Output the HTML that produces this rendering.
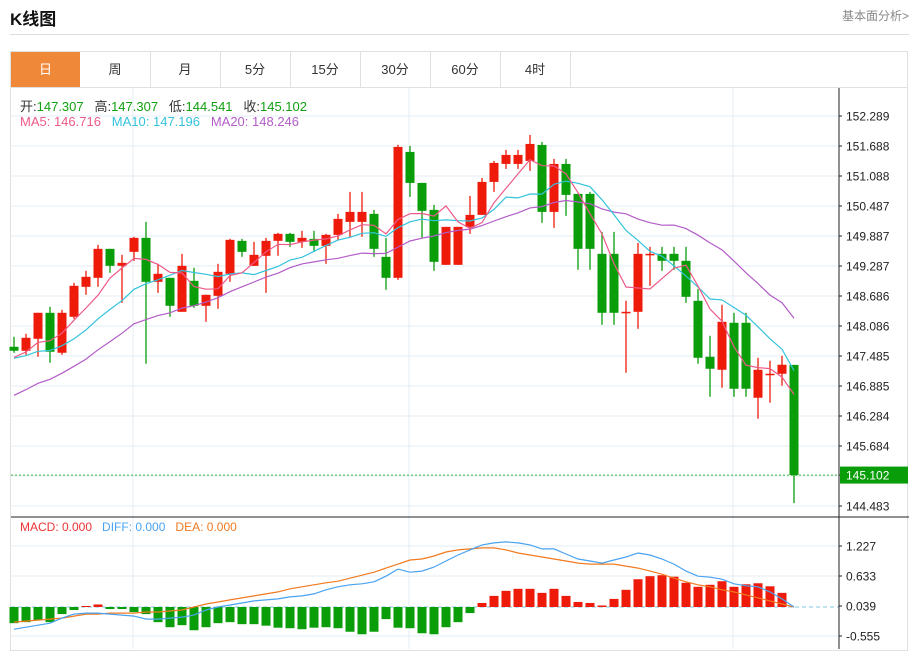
<!DOCTYPE html>
<html><head><meta charset="utf-8"><style>
body{margin:0;width:917px;height:649px;overflow:hidden;background:#fff;font-family:"Liberation Sans","Noto Sans CJK SC",sans-serif;}
.t{position:absolute;white-space:nowrap}
</style></head><body>
<div class="t" style="left:10px;top:5px;font-size:17px;font-weight:bold;color:#111">K线图</div>
<div class="t" style="left:842px;top:7px;font-size:12px;color:#888">基本面分析&gt;</div>
<div style="position:absolute;left:10px;top:34px;width:899px;height:1px;background:#ddd"></div>
<div style="position:absolute;left:10px;top:51px;width:898px;height:600px;border:1px solid #e0e0e0;box-sizing:border-box"></div>
<div style="position:absolute;left:11px;top:52px;height:35px;width:897px;border-bottom:1px solid #e0e0e0;font-size:13px;color:#333">
<div style="position:absolute;left:0;width:69px;height:35px;background:#f0883a;color:#fff;text-align:center;line-height:35px">日</div>
<div style="position:absolute;left:69px;width:70px;height:35px;border-right:1px solid #e0e0e0;text-align:center;line-height:35px">周</div>
<div style="position:absolute;left:139px;width:70px;height:35px;border-right:1px solid #e0e0e0;text-align:center;line-height:35px">月</div>
<div style="position:absolute;left:209px;width:70px;height:35px;border-right:1px solid #e0e0e0;text-align:center;line-height:35px">5分</div>
<div style="position:absolute;left:279px;width:70px;height:35px;border-right:1px solid #e0e0e0;text-align:center;line-height:35px">15分</div>
<div style="position:absolute;left:349px;width:70px;height:35px;border-right:1px solid #e0e0e0;text-align:center;line-height:35px">30分</div>
<div style="position:absolute;left:419px;width:70px;height:35px;border-right:1px solid #e0e0e0;text-align:center;line-height:35px">60分</div>
<div style="position:absolute;left:489px;width:70px;height:35px;border-right:1px solid #e0e0e0;text-align:center;line-height:35px">4时</div>
</div>
<svg id="chart" width="917" height="649" style="position:absolute;left:0;top:0" font-family="Liberation Sans, Noto Sans CJK SC, sans-serif"></svg>
<div class="t" style="left:20px;top:96px;font-size:13px;color:#333">开:<span style="color:#11a011">147.307</span>&nbsp;&nbsp; 高:<span style="color:#11a011">147.307</span>&nbsp;&nbsp; 低:<span style="color:#11a011">144.541</span>&nbsp;&nbsp; 收:<span style="color:#11a011">145.102</span></div>
<div class="t" style="left:20px;top:114px;font-size:13px"><span style="color:#ee5a88">MA5: 146.716</span>&nbsp;&nbsp; <span style="color:#33c3dc">MA10: 147.196</span>&nbsp;&nbsp; <span style="color:#b35cc8">MA20: 148.246</span></div>
<div class="t" style="left:20px;top:520px;font-size:12px"><span style="color:#ee3333">MACD: 0.000</span>&nbsp;&nbsp; <span style="color:#4aa3f0">DIFF: 0.000</span>&nbsp;&nbsp; <span style="color:#f07a20">DEA: 0.000</span></div>
<script>
const opens=[147.67,147.59,147.83,148.35,147.55,148.27,148.87,149.05,149.63,149.29,149.57,149.85,148.97,149.05,148.37,148.99,148.49,148.69,149.13,149.79,149.29,149.49,149.79,149.93,149.77,149.83,149.69,149.91,150.17,150.17,150.33,149.47,149.05,151.57,150.95,150.41,149.31,149.31,150.07,150.31,150.97,151.33,151.33,151.39,151.71,150.37,151.33,150.73,150.73,149.53,149.53,148.36,148.37,149.52,149.53,149.53,149.39,148.59,147.47,147.21,148.15,148.15,146.65,147.12,147.13,147.307];
const highs=[147.87,147.93,148.35,148.47,148.41,148.95,149.19,149.71,149.63,149.51,149.87,150.17,149.33,149.05,149.53,149.25,148.71,149.33,149.83,149.83,149.77,149.85,149.95,149.95,149.99,149.99,149.93,150.33,150.77,150.77,150.41,149.85,151.71,151.69,150.95,150.51,150.07,150.07,150.69,151.05,151.39,151.61,151.61,151.91,151.77,151.43,151.43,150.73,150.77,149.97,149.97,148.59,149.75,149.67,149.67,149.67,149.67,148.83,147.89,148.51,148.35,148.35,147.45,147.39,147.49,147.307];
const lows=[147.55,147.51,147.47,147.35,147.51,148.23,148.71,148.87,149.15,148.55,149.39,147.33,148.75,148.27,148.37,148.45,148.17,148.43,148.97,149.47,149.29,148.75,149.49,149.67,149.65,149.57,149.33,149.81,149.87,149.87,149.47,148.81,149.01,150.67,149.85,149.19,149.31,149.31,149.93,150.31,150.77,151.23,151.23,151.19,150.15,150.05,150.29,149.21,149.21,148.11,148.11,147.15,148.03,148.89,149.19,149.21,148.55,147.33,146.67,146.85,146.67,146.67,146.23,146.55,146.89,144.541];
const closes=[147.59,147.85,148.35,147.57,148.35,148.89,149.07,149.63,149.29,149.35,149.85,148.97,149.13,148.49,149.29,148.49,148.71,149.17,149.81,149.57,149.51,149.79,149.93,149.77,149.85,149.69,149.91,150.23,150.37,150.37,149.63,149.05,151.67,150.95,150.39,149.37,150.07,150.07,150.31,150.97,151.35,151.51,151.51,151.73,150.37,151.33,150.71,149.63,149.63,148.35,148.35,148.37,149.53,149.53,149.39,149.39,148.67,147.45,147.23,148.17,146.83,146.83,147.21,147.13,147.31,145.102];
const priorCloses=[145.6,145.8,146.0,145.9,146.1,146.2,145.9,146.0,146.0,146.1,147.3,147.5,147.4,147.4,147.5,147.3,147.4,147.4,147.6];
const macdBars=[-0.32,-0.30,-0.26,-0.30,-0.14,-0.06,0.02,0.05,-0.04,-0.04,-0.10,-0.14,-0.30,-0.40,-0.36,-0.46,-0.40,-0.32,-0.30,-0.34,-0.34,-0.37,-0.41,-0.42,-0.44,-0.41,-0.40,-0.42,-0.49,-0.54,-0.49,-0.24,-0.41,-0.42,-0.52,-0.54,-0.40,-0.30,-0.12,0.08,0.22,0.32,0.36,0.36,0.28,0.36,0.22,0.10,0.08,0.03,0.16,0.34,0.55,0.61,0.63,0.60,0.48,0.40,0.44,0.51,0.40,0.45,0.47,0.41,0.28,0];
const diffVals=[-0.44,-0.40,-0.36,-0.32,-0.22,-0.14,-0.12,-0.12,-0.14,-0.16,-0.18,-0.24,-0.24,-0.22,-0.20,-0.16,-0.06,0.0,0.04,0.08,0.12,0.14,0.16,0.20,0.22,0.26,0.34,0.40,0.44,0.46,0.50,0.61,0.75,0.69,0.71,0.79,0.91,1.03,1.13,1.23,1.27,1.29,1.27,1.23,1.15,1.15,1.05,0.95,0.91,0.87,0.93,0.99,1.07,1.03,0.95,0.85,0.71,0.61,0.59,0.55,0.46,0.42,0.40,0.30,0.16,0.0];
const deaVals=[-0.30,-0.28,-0.26,-0.24,-0.22,-0.18,-0.14,-0.14,-0.12,-0.12,-0.12,-0.10,-0.10,-0.08,-0.06,0.0,0.06,0.10,0.14,0.18,0.22,0.26,0.30,0.36,0.40,0.44,0.48,0.51,0.57,0.63,0.69,0.77,0.85,0.93,0.95,1.01,1.09,1.13,1.15,1.17,1.17,1.13,1.07,1.03,0.99,0.95,0.91,0.87,0.85,0.85,0.85,0.81,0.77,0.71,0.65,0.57,0.50,0.44,0.40,0.34,0.30,0.24,0.18,0.12,0.06,0.0];
const priceTicks=["152.289","151.688","151.088","150.487","149.887","149.287","148.686","148.086","147.485","146.885","146.284","145.684","145.102","144.483"];
const macdTicks=["1.227","0.633","0.039","-0.555"];

const NS="http://www.w3.org/2000/svg";
const svg=document.getElementById('chart');
function mk(tag,attrs,parent){const e=document.createElementNS(NS,tag);for(const k in attrs)e.setAttribute(k,attrs[k]);(parent||svg).appendChild(e);return e;}
const PL=11,PR=839,PT=88,PB=517,MB=649;
const pTop=152.289,pBot=144.483,yTop=116,yBot=506;
const py=p=>yTop+(pTop-p)/(pTop-pBot)*(yBot-yTop);
const mZero=607,mScale=50.5;
const my=v=>mZero-v*mScale;
const xi=i=>14+12*i;

// grid
const grid=mk('g',{});


for(let k=0;k<14;k++){const y=116+30*k;mk('line',{x1:PL,x2:PR,y1:y,y2:y,stroke:'#e2ecf3','stroke-width':1},grid);}
[546,576,636].forEach(y=>mk('line',{x1:PL,x2:PR,y1:y,y2:y,stroke:'#e2ecf3','stroke-width':1},grid));
[133,409,733].forEach(x=>mk('line',{x1:x,x2:x,y1:PT,y2:MB,stroke:'#e2ecf3','stroke-width':1},grid));
mk('line',{x1:PL,x2:PR,y1:mZero,y2:mZero,stroke:'#bfe3f0','stroke-width':2,'stroke-dasharray':'4,3'},grid);
// axes
const ax=mk('line',{x1:PR,x2:PR,y1:PT,y2:MB,stroke:'#222','stroke-width':1});


const sep=mk('line',{x1:PL,x2:909,y1:PB,y2:PB,stroke:'#222','stroke-width':1});


// price ticks
priceTicks.forEach((t,k)=>{
  const v=parseFloat(t);
  const y=(k===12)?py(closes[closes.length-1]):116+30*(k<12?k:13);
  mk('line',{x1:PR,x2:PR+3,y1:y,y2:y,stroke:'#222'});
  if(k===12){const r=mk('rect',{x:PR+1,y:y-8.5,width:68,height:17,fill:'#0a9d0a'});
    
    }
  const tx=mk('text',{x:PR+7,y:y+4.5,'font-size':12,fill:k===12?'#fff':'#222'});
  tx.textContent=t;
  
  
});
macdTicks.forEach((t,k)=>{
  const y=546+30*k;
  mk('line',{x1:PR,x2:PR+3,y1:y,y2:y,stroke:'#222'});
  const tx=mk('text',{x:PR+7,y:y+4.5,'font-size':12,fill:'#222'});
  tx.textContent=t;
  
  
});
// last price dotted line
const lp=mk('line',{x1:PL,x2:PR,y1:py(closes[closes.length-1]),y2:py(closes[closes.length-1]),stroke:'#3cb93c','stroke-width':1,'stroke-dasharray':'2,2'});


// candles
for(let i=0;i<closes.length;i++){
  const up=closes[i]>=opens[i];const col=up?'#ee1b0b':'#0a9d0a';
  const g=mk('g',{});
  
  
  const x=xi(i);
  mk('line',{x1:x,x2:x,y1:py(highs[i]),y2:py(lows[i]),stroke:col,'stroke-width':1.3},g);
  const t=py(Math.max(opens[i],closes[i])),b=py(Math.min(opens[i],closes[i]));
  mk('rect',{x:x-4.5,y:t,width:9,height:Math.max(b-t,1.5),fill:col},g);
}
// MAs
const all=priorCloses.concat(closes);const off=priorCloses.length;
function maPath(n,color,name){
  let d='';
  for(let i=0;i<closes.length;i++){
    const j=i+off;let s=0,c=0;
    for(let k=Math.max(0,j-n+1);k<=j;k++){s+=all[k];c++;}
    d+=(i?'L':'M')+xi(i)+','+py(s/c).toFixed(1);
  }
  const p=mk('path',{d:d,fill:'none',stroke:color,'stroke-width':1.2});
  
  
}
maPath(20,'#b35cc8','ma20-line');
maPath(10,'#33c3dc','ma10-line');
maPath(5,'#ee5a88','ma5-line');
// MACD bars
for(let i=0;i<macdBars.length;i++){
  const v=macdBars[i];if(v===0)continue;
  const y1=my(v),y0=mZero;
  const r=mk('rect',{x:xi(i)-4.5,y:Math.min(y0,y1),width:9,height:Math.abs(y1-y0),fill:v>0?'#ee1b0b':'#0a9d0a'});
  
  
}
function ln(arr,color,name){
  let d='';arr.forEach((v,i)=>{d+=(i?'L':'M')+xi(i)+','+my(v).toFixed(1);});
  const p=mk('path',{d:d,fill:'none',stroke:color,'stroke-width':1.2});
  
  
}
ln(deaVals,'#f07a20','dea-line');
ln(diffVals,'#4aa3f0','diff-line');
</script>
</body></html>
